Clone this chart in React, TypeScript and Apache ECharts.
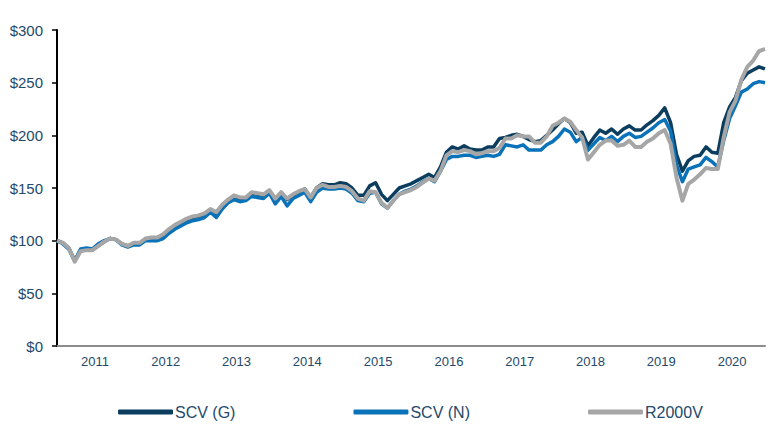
import React, { useEffect, useRef } from "react";
import * as echarts from "echarts";

const startYear = 2010;
const startMonth = 7; // first monthly point: 2010-07
const monthCount = 121;

const months: string[] = [];
for (let k = 0; k < monthCount; k++) {
  const m = startMonth - 1 + k;
  const y = startYear + Math.floor(m / 12);
  const mm = (m % 12) + 1;
  months.push(`${y}-${mm < 10 ? "0" + mm : mm}`);
}

const yTicks = [0, 50, 100, 150, 200, 250, 300];

const scvG = [
  100, 98, 93, 81, 91, 91, 91, 95, 99, 102, 101, 97, 95, 97, 97, 101, 102, 102, 105, 110,
  114, 117, 120, 122, 123, 125, 129, 125, 133, 138, 142, 140, 140, 145, 144, 143, 147, 139, 145, 139,
  143, 146, 149, 141, 150, 154, 153, 153, 155, 154, 150, 143, 143, 152, 155, 144, 138, 144, 150, 152,
  154, 157, 160, 163, 160, 170, 184, 189, 187, 190, 187, 186, 186, 189, 189, 197, 198, 200, 201, 199,
  196, 194, 195, 200, 205, 211, 216, 212, 202, 203, 190, 198, 205, 202, 206, 201, 206, 209, 205, 205,
  210, 214, 219, 226, 212, 182, 166, 176, 180, 181, 189, 184, 183, 212, 227, 236, 252, 259, 262, 265,
  263,
];

const scvN = [
  100, 97, 92, 81, 92, 93, 92, 97, 100, 102, 101, 96, 94, 96, 96, 100, 100, 100, 102, 107,
  111, 114, 117, 119, 120, 122, 127, 122, 130, 136, 139, 137, 138, 142, 141, 140, 145, 135, 142, 133,
  140, 143, 146, 137, 146, 150, 149, 149, 150, 149, 145, 138, 137, 145, 146, 135, 131, 138, 144, 147,
  149, 152, 156, 159, 156, 166, 177, 180, 180, 181, 181, 179, 180, 181, 180, 182, 191, 190, 189, 191,
  186, 186, 186, 191, 194, 199, 206, 203, 194, 198, 186, 192, 198, 195, 199, 194, 199, 202, 198, 199,
  203, 207, 212, 215, 204, 172, 156, 168, 170, 172, 179, 175, 170, 195, 216, 228, 241, 244, 249, 251,
  250,
];

const r2000v = [
  100, 98, 93, 80, 90, 91, 91, 95, 99, 102, 101, 97, 95, 98, 98, 102, 103, 103, 106, 111,
  115, 118, 121, 123, 124, 126, 130, 127, 134, 139, 143, 141, 141, 146, 145, 144, 148, 140, 146, 140,
  144, 147, 149, 141, 150, 153, 151, 151, 152, 151, 147, 140, 138, 147, 146, 136, 131, 138, 144, 146,
  148, 151, 155, 159, 157, 166, 181, 185, 184, 186, 185, 182, 183, 185, 185, 188, 197, 197, 200, 199,
  199, 193, 193, 199, 209, 212, 216, 213, 205, 198, 177, 184, 191, 195, 195, 190, 191, 195, 189, 189,
  194, 197, 202, 205, 192, 160, 138, 154, 158, 163, 169, 168, 168, 198, 222, 233, 253, 265, 271, 280,
  282,
];

const seriesNames = ["SCV (G)", "SCV (N)", "R2000V"];
const seriesColors = ["#0b3d5e", "#0a72b8", "#a6a6a6"];

const textColor = "#24496b";
const fontFamily = "'Liberation Sans', Arial, sans-serif";

export default function App() {
  const ref = useRef<HTMLDivElement>(null);

  useEffect(() => {
    if (!ref.current) return;
    const chart = echarts.init(ref.current, null, { renderer: "svg" });
    const dataSets = [scvG, scvN, r2000v];
    chart.setOption({
      animation: false,
      backgroundColor: "#ffffff",
      grid: { left: 57, right: 1, top: 30, bottom: 79, containLabel: false },
      legend: {
        data: seriesNames,
        left: 118,
        top: 404,
        padding: 0,
        itemGap: 118,
        itemWidth: 55,
        itemHeight: 5,
        icon: "roundRect",
        textStyle: { color: textColor, fontSize: 16, fontFamily, padding: [0, 0, 0, -3] },
      },
      xAxis: {
        type: "category",
        data: months,
        boundaryGap: false,
        axisLine: { show: true, lineStyle: { color: "#8c8c8c", width: 2 } },
        axisTick: { show: false },
        splitLine: { show: false },
        axisLabel: {
          interval: 0,
          color: textColor,
          fontSize: 13,
          fontFamily,
          margin: 9,
          padding: [0, 0, 0, 5],
          formatter: (v: string) => (v.endsWith("-01") ? v.slice(0, 4) : ""),
        },
      },
      yAxis: {
        type: "value",
        min: yTicks[0],
        max: yTicks[yTicks.length - 1],
        interval: 50,
        axisLine: { show: true, lineStyle: { color: "#000000", width: 2 } },
        axisTick: { show: true, length: 5, lineStyle: { color: "#000000", width: 1.5 } },
        splitLine: { show: false },
        axisLabel: {
          color: textColor,
          fontSize: 15,
          fontFamily,
          margin: 14,
          formatter: (v: number) => "$" + v,
        },
      },
      series: seriesNames.map((name, k) => ({
        name,
        type: "line",
        data: dataSets[k],
        showSymbol: false,
        symbol: "none",
        smooth: false,
        z: k + 2,
        lineStyle: { color: seriesColors[k], width: k === 2 ? 4 : 3.5, join: "round" },
        itemStyle: { color: seriesColors[k] },
      })),
    });
    return () => chart.dispose();
  }, []);

  return (
    <div
      ref={ref}
      style={{ position: "fixed", left: 0, top: 0, width: 768, height: 425, background: "#fff" }}
    />
  );
}
